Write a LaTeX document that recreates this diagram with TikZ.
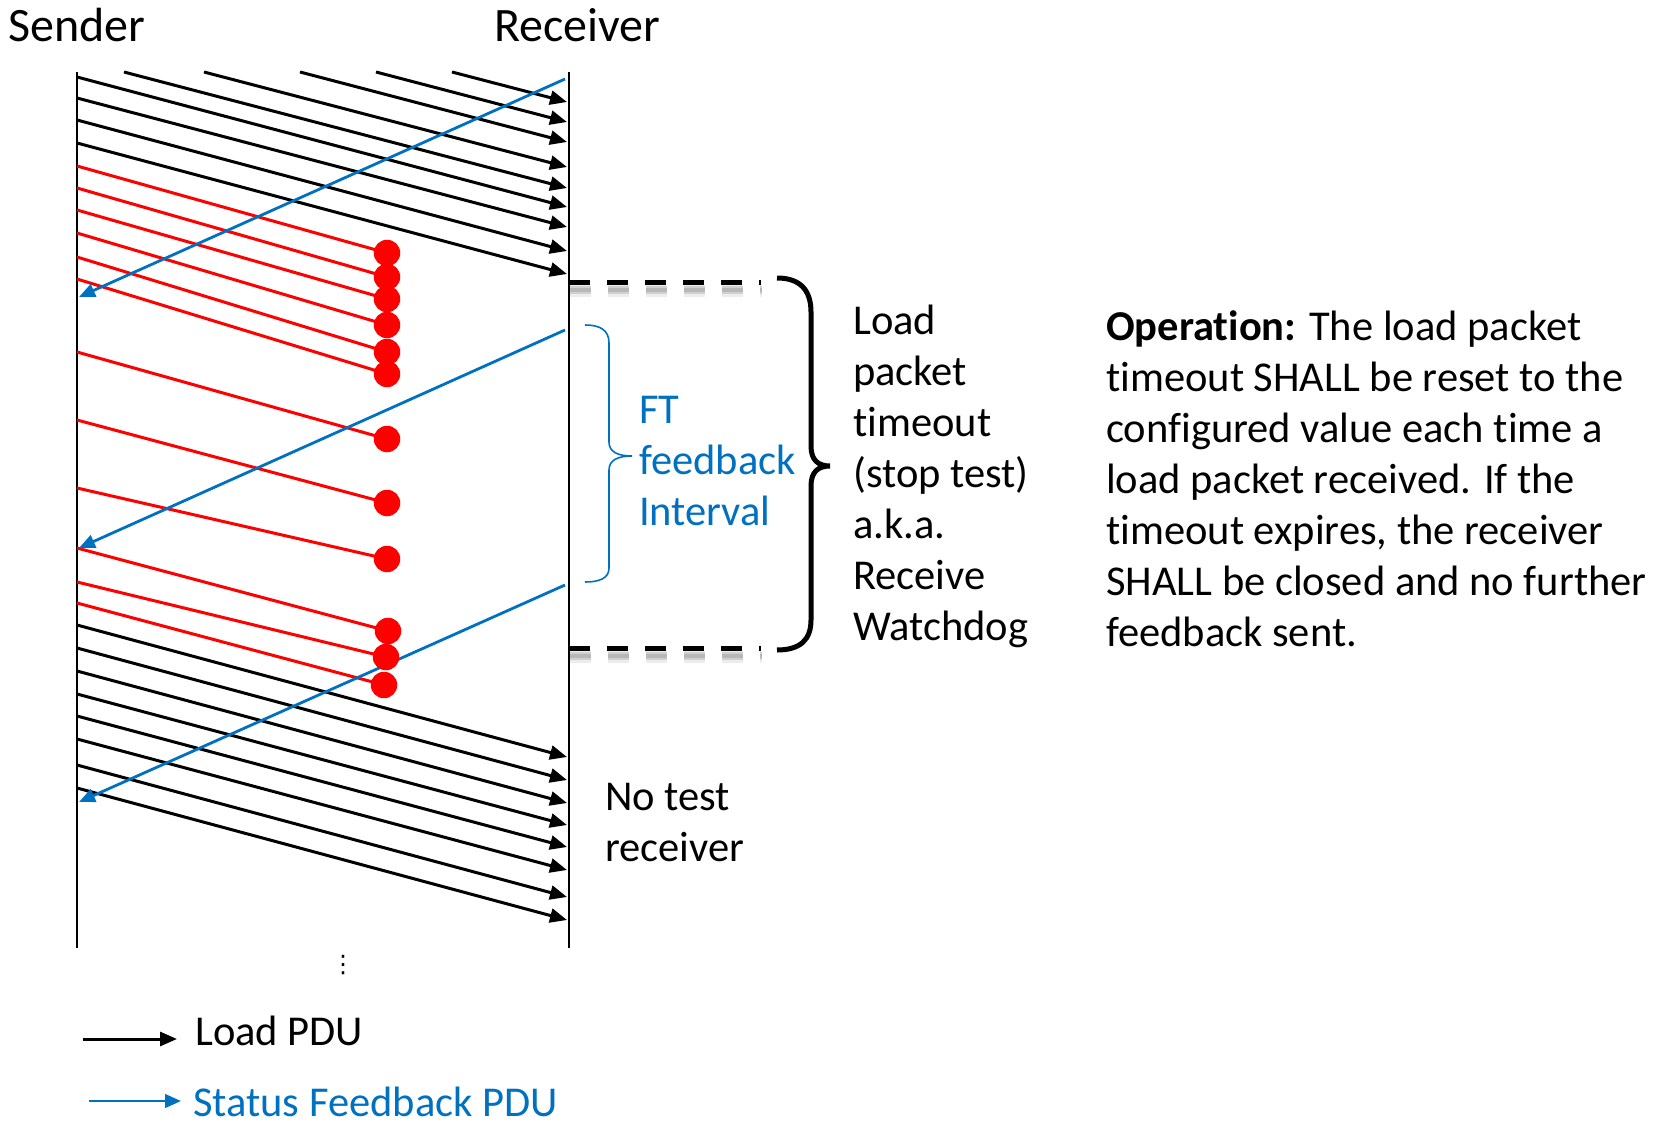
\documentclass[tikz,border=0pt]{standalone}
\usepackage{fontspec}
\setmainfont{Carlito}[Ligatures={NoCommon}]
\newfontfamily\symfont{DejaVu Sans}
\usetikzlibrary{arrows.meta}
\definecolor{fbblue}{HTML}{0070C0}
\definecolor{lossred}{HTML}{FF0000}

\begin{document}
\begin{tikzpicture}[x=1pt,y=-1pt,
  lifeline/.style={line width=2.9pt,black},
  load/.style={line width=3pt,black,-{Triangle[length=17pt,width=14pt]}},
  lost/.style={line width=3pt,lossred},
  drop/.style={circle,fill=lossred,minimum size=26.5pt,inner sep=0pt},
  feedback/.style={line width=2.8pt,fbblue,-{Triangle[length=16pt,width=13.5pt]}},
  window/.style={line width=5pt,black,dash pattern=on 21pt off 17pt},
  winshadow/.style={black,dash pattern=on 21pt off 17pt},
  bigbrace/.style={line width=5pt,black,line join=miter},
  smallbrace/.style={line width=1.6pt,fbblue},
  title/.style={font=\fontsize{48}{58}\selectfont,inner sep=0pt,anchor=base west},
  txt/.style={font=\fontsize{42.5}{51}\selectfont,inner sep=0pt,align=left,anchor=base west},
]
\useasboundingbox (0,0) rectangle (1662,1124);

% lifelines
\coordinate (sTop) at (77,72);
\coordinate (sBot) at (77,948);
\coordinate (rTop) at (569,72);
\coordinate (rBot) at (569,948);
\draw[lifeline] (sTop) -- (sBot);
\draw[lifeline] (rTop) -- (rBot);

\node[title] (sender) at (8,42) {Sender};
\node[title] (receiver) at (494,42) {Receiver};

% load PDUs already in flight at the top
\foreach \xs/\ye [count=\i] in {452/102, 376/122, 300/142, 204/167, 124/188} {
  \coordinate (fs\i) at (\xs,72);
  \coordinate (fe\i) at (567,\ye);
  \draw[load] (fs\i) -- (fe\i);
}
% load PDUs that arrive before the loss
\foreach \ys/\ye [count=\i] in {77/207, 98/227, 120/251, 143/274} {
  \coordinate (as\i) at (77,\ys);
  \coordinate (ae\i) at (567,\ye);
  \draw[load] (as\i) -- (ae\i);
}
% load PDUs sent after the receiver has closed
\foreach \ys/\ye [count=\i] in {625/757, 648/780, 671/803, 694/825, 716/847, 739/870, 765/897, 788/920} {
  \coordinate (bs\i) at (77,\ys);
  \coordinate (be\i) at (567,\ye);
  \draw[load] (bs\i) -- (be\i);
}

% lost load PDUs
\foreach \ys/\xe/\ye [count=\i] in {166/387/253, 188/387/277, 210/387/299, 233/387/325, 257/387/352, 279/387/374, 352/387/439, 420/387/503, 488/387/559, 548/388/631, 582/386/657, 603/384/685} {
  \coordinate (rs\i) at (77,\ys);
  \coordinate (rd\i) at (\xe,\ye);
  \draw[lost] (rs\i) -- (rd\i);
}

% status feedback PDUs
\foreach \ys/\ye [count=\i] in {79/297, 330/548, 585/802} {
  \coordinate (ff\i) at (565,\ys);
  \coordinate (ft\i) at (79,\ye);
  \draw[feedback] (ff\i) -- (ft\i);
}

% drop markers on top
\foreach \i in {1,...,12} {
  \node[drop] (d\i) at (rd\i) {};
}

% watchdog window with a soft drop shadow
\coordinate (wTopL) at (569,282);
\coordinate (wTopR) at (761,282);
\coordinate (wBotL) at (569,648);
\coordinate (wBotR) at (761,648);
\foreach \a/\b in {wTopL/wTopR, wBotL/wBotR} {
  \draw[winshadow,line width=12pt,opacity=0.07] ([shift={(1,9)}]\a) -- ([shift={(1,9)}]\b);
  \draw[winshadow,line width=8pt,opacity=0.12] ([shift={(1,8)}]\a) -- ([shift={(1,8)}]\b);
  \draw[winshadow,line width=4pt,opacity=0.12] ([shift={(1,8)}]\a) -- ([shift={(1,8)}]\b);
}
\draw[window] (wTopL) -- (wTopR);
\draw[window] (wBotL) -- (wBotR);

\draw[bigbrace] (777,278) .. controls (800,278) and (811,290) .. (811,312)
  -- (811,446) .. controls (811,460) and (818,466) .. (830,466)
  .. controls (818,466) and (811,472) .. (811,486)
  -- (811,620) .. controls (811,640) and (800,650) .. (777,650);

\node[txt] (watchdog) at (853,640) {Load\\packet\\timeout\\(stop test)\\a.k.a.\\Receive\\Watchdog};

% feedback interval
\draw[smallbrace] (585,325) .. controls (600,325) and (609,330) .. (609,343)
  -- (609,442) .. controls (609,452) and (618,456) .. (632,456)
  .. controls (618,456) and (609,460) .. (609,470)
  -- (609,568) .. controls (609,578) and (600,582) .. (585,582);
\node[txt,text=fbblue] (interval) at (639,525) {FT\\feedback\\Interval};

\node[txt] (closed) at (605,861) {No test\\receiver};

\node[txt] (operation) at (1106,646) {\textbf{Operation:} The load packet\\timeout SHALL be reset to the\\configured value each time a\\load packet received. If the\\timeout expires, the receiver\\SHALL be closed and no further\\feedback sent.};

\node[font=\symfont\fontsize{24}{28}\selectfont,inner sep=0pt] (more) at (343,965) {⋮};

% legend
\coordinate (lgA1) at (83,1039);
\coordinate (lgA2) at (177,1039);
\coordinate (lgB1) at (89,1101);
\coordinate (lgB2) at (181,1101);
\draw[load] (lgA1) -- (lgA2);
\draw[feedback] (lgB1) -- (lgB2);
\node[txt] (lgLoad) at (195,1045) {Load PDU};
\node[txt,text=fbblue] (lgStatus) at (193,1116) {Status Feedback PDU};
\end{tikzpicture}
\end{document}
